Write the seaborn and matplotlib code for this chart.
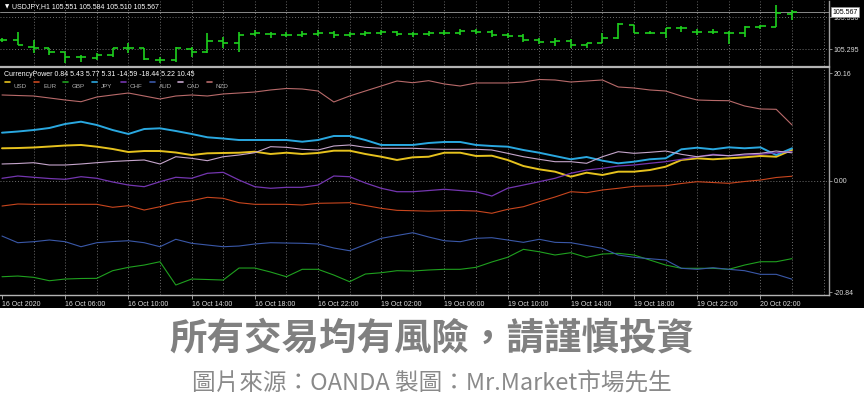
import numpy as np
import pandas as pd
import matplotlib
matplotlib.use("Agg")
import matplotlib.pyplot as plt
import matplotlib.transforms as mtransforms
from matplotlib.patches import Rectangle
from matplotlib.lines import Line2D
import seaborn as sns

# ---------------- data ----------------
x_labels = ["16 Oct 2020", "16 Oct 06:00", "16 Oct 10:00", "16 Oct 14:00", "16 Oct 18:00",
            "16 Oct 22:00", "19 Oct 02:00", "19 Oct 06:00", "19 Oct 10:00", "19 Oct 14:00",
            "19 Oct 18:00", "19 Oct 22:00", "20 Oct 02:00"]
label_bars = [0, 4, 8, 12, 16, 20, 24, 28, 32, 36, 40, 44, 48]

price_open = [105.361, 105.361, 105.312, 105.300, 105.275, 105.234, 105.227, 105.251, 105.300, 105.300,
              105.214, 105.214, 105.293, 105.275, 105.356, 105.337, 105.403, 105.405, 105.400, 105.400,
              105.409, 105.413, 105.398, 105.405, 105.413, 105.420, 105.405, 105.409, 105.413, 105.416,
              105.427, 105.420, 105.398, 105.391, 105.361, 105.347, 105.356, 105.324, 105.337, 105.374,
              105.471, 105.415, 105.415, 105.447, 105.422, 105.422, 105.415, 105.410, 105.459, 105.459,
              105.551]
price_high = [105.376, 105.422, 105.361, 105.300, 105.275, 105.251, 105.268, 105.300, 105.337, 105.300,
              105.238, 105.308, 105.312, 105.415, 105.385, 105.422, 105.435, 105.422, 105.422, 105.427,
              105.435, 105.427, 105.420, 105.427, 105.435, 105.427, 105.420, 105.427, 105.435, 105.442,
              105.442, 105.435, 105.413, 105.405, 105.376, 105.376, 105.366, 105.341, 105.410, 105.484,
              105.471, 105.430, 105.447, 105.464, 105.440, 105.440, 105.430, 105.464, 105.471, 105.618,
              105.584]
price_low = [105.347, 105.324, 105.263, 105.251, 105.190, 105.202, 105.214, 105.238, 105.263, 105.214,
             105.190, 105.202, 105.238, 105.263, 105.300, 105.275, 105.391, 105.374, 105.385, 105.383,
             105.391, 105.376, 105.383, 105.391, 105.398, 105.391, 105.383, 105.391, 105.398, 105.398,
             105.405, 105.383, 105.376, 105.347, 105.332, 105.317, 105.300, 105.300, 105.337, 105.366,
             105.410, 105.405, 105.374, 105.422, 105.398, 105.405, 105.332, 105.381, 105.440, 105.459,
             105.510]
price_close = [105.361, 105.324, 105.300, 105.275, 105.238, 105.234, 105.251, 105.300, 105.300, 105.219,
               105.214, 105.300, 105.275, 105.356, 105.337, 105.398, 105.415, 105.405, 105.400, 105.409,
               105.413, 105.398, 105.405, 105.413, 105.420, 105.405, 105.409, 105.413, 105.416, 105.427,
               105.420, 105.398, 105.391, 105.361, 105.347, 105.356, 105.324, 105.337, 105.374, 105.479,
               105.415, 105.415, 105.447, 105.447, 105.422, 105.422, 105.415, 105.459, 105.464, 105.557,
               105.567]
price_ticks = [105.530, 105.295]
price_last = 105.567

usd = [6.07, 6.12, 6.22, 6.40, 6.59, 6.69, 6.37, 5.94, 5.37, 5.56, 5.56, 5.28, 4.81, 5.13, 5.19, 5.24, 5.43,
       5.00, 5.24, 5.00, 5.19, 5.62, 5.62, 5.00, 4.49, 3.88, 4.38, 4.49, 5.24, 5.24, 4.63, 4.68, 3.88, 2.75,
       2.13, 1.69, 0.75, 1.50, 1.07, 1.69, 1.69, 2.00, 2.62, 3.88, 4.19, 4.01, 4.19, 4.38, 4.63, 4.49, 5.75]
eur = [-4.74, -4.36, -4.42, -4.42, -4.42, -4.42, -4.42, -4.98, -4.68, -5.49, -4.87, -4.12, -3.75, -3.11,
       -3.30, -4.12, -4.42, -4.42, -4.42, -4.55, -4.23, -4.18, -4.12, -4.64, -5.17, -5.55, -5.62, -5.70,
       -5.62, -5.58, -5.66, -6.10, -5.36, -4.87, -3.93, -3.05, -2.06, -2.25, -1.74, -1.42, -1.05, -0.99,
       -0.94, -0.52, -0.19, -0.34, -0.49, -0.15, 0.13, 0.60, 0.84]
gbp = [-17.98, -17.85, -18.09, -18.73, -18.41, -18.31, -18.28, -16.85, -16.22, -15.79, -15.17, -19.53,
       -18.41, -18.50, -18.60, -16.35, -16.35, -17.10, -17.98, -16.59, -16.59, -17.66, -18.91, -17.47,
       -17.23, -16.85, -16.91, -16.72, -16.59, -16.59, -16.22, -15.22, -14.34, -12.85, -13.30, -13.91,
       -13.48, -14.34, -13.73, -13.60, -13.91, -14.85, -15.79, -16.40, -16.40, -16.40, -16.59, -15.79,
       -15.17, -15.17, -14.59]
jpy = [8.99, 9.21, 9.49, 9.87, 10.62, 11.05, 10.43, 9.49, 8.75, 9.68, 9.81, 9.31, 8.75, 8.13, 7.90, 7.62,
       7.62, 7.62, 7.62, 7.30, 7.62, 8.37, 8.37, 7.62, 6.69, 6.69, 6.69, 7.06, 7.25, 7.25, 6.69, 6.50, 6.37,
       5.75, 5.24, 4.62, 4.01, 4.44, 3.75, 3.26, 3.56, 4.01, 4.19, 5.88, 6.18, 5.88, 6.25, 6.07, 6.25, 4.81,
       6.07]
chf = [0.45, 0.88, 0.64, 0.41, 0.26, 0.75, 0.45, -0.24, -0.81, -1.12, -0.19, 0.64, 0.45, 1.39, 1.57, 0.13,
       -1.12, -1.42, -1.24, -1.24, -0.81, 0.88, 0.75, -0.43, -1.42, -2.06, -2.06, -1.84, -1.61, -1.84,
       -2.06, -2.87, -1.42, -0.81, -0.19, 0.45, 1.39, 2.00, 2.32, 2.75, 2.94, 3.26, 3.56, 4.01, 4.49, 4.94,
       4.68, 4.81, 4.94, 5.24, 5.43]
aud = [-10.36, -11.61, -11.42, -11.10, -11.42, -12.36, -11.61, -11.39, -11.24, -11.61, -12.36, -10.97,
       -11.72, -12.04, -12.36, -12.23, -11.85, -11.61, -11.67, -11.72, -11.85, -12.60, -13.11, -11.95,
       -10.79, -10.26, -9.74, -10.54, -11.24, -11.42, -10.79, -10.67, -11.10, -11.54, -10.97, -11.54,
       -11.61, -12.13, -12.66, -13.91, -14.34, -14.61, -14.85, -16.40, -16.59, -16.29, -16.59, -16.85,
       -17.53, -17.53, -18.44]
cad = [3.13, 3.22, 3.37, 2.94, 2.94, 3.13, 3.37, 3.60, 3.75, 3.88, 3.13, 4.49, 4.19, 3.75, 4.49, 4.81, 5.24,
       6.37, 6.25, 5.88, 5.75, 6.50, 6.69, 6.25, 6.07, 6.07, 6.07, 5.94, 5.88, 5.88, 5.88, 5.75, 5.13, 4.49,
       4.01, 3.56, 3.56, 3.26, 4.49, 5.43, 5.13, 5.32, 5.56, 4.94, 4.49, 4.81, 4.68, 5.00, 5.13, 5.56, 5.22]
nzd = [16.05, 15.95, 15.86, 15.49, 15.11, 14.79, 15.67, 16.05, 16.42, 15.86, 15.30, 15.86, 16.05, 15.86,
       16.24, 16.42, 16.61, 16.99, 17.27, 17.17, 16.80, 14.74, 15.86, 16.80, 17.73, 18.67, 18.35, 18.73,
       18.11, 17.73, 18.30, 18.30, 18.30, 18.48, 18.95, 18.86, 18.48, 18.67, 18.86, 17.55, 17.36, 16.99,
       16.80, 15.86, 15.11, 15.02, 14.98, 13.99, 13.43, 13.37, 10.45]

currencies = ["USD", "EUR", "GBP", "JPY", "CHF", "AUD", "CAD", "NZD"]
series = [usd, eur, gbp, jpy, chf, aud, cad, nzd]
indicator_ticks = [20.16, 0.00, -20.84]
indicator_title = "CurrencyPower 0.84 5.43 5.77 5.31 -14.59 -18.44 5.22 10.45"
price_title = "USDJPY,H1 105.551 105.584 105.510 105.567"

# ---------------- style ----------------
colors = {"USD": "#e6c21e", "EUR": "#c8461e", "GBP": "#1fa01f", "JPY": "#2aa8e0",
          "CHF": "#7436b0", "AUD": "#3a58a8", "CAD": "#c6a6cc", "NZD": "#b86a6a"}
widths = {"USD": 1.4, "EUR": 0.8, "GBP": 0.8, "JPY": 1.4, "CHF": 0.9, "AUD": 0.8, "CAD": 0.8, "NZD": 0.8}

sns.set_theme(style="dark")
plt.rcParams["font.family"] = ["Liberation Sans", "DejaVu Sans"]

W, H = 864, 409
fig = plt.figure(figsize=(W / 100, H / 100), dpi=100, facecolor="white")
fig.patches.append(Rectangle((0, 1 - 308 / H), 1, 308 / H, transform=fig.transFigure,
                             facecolor="black", edgecolor="none", zorder=-10))

right_px = 829
ax_p = fig.add_axes([0, 1 - 66 / H, right_px / W, 65 / H])
ax_i = fig.add_axes([0, 1 - 295 / H, right_px / W, (295 - 67) / H])

n = len(price_open)
bars = np.arange(n)
xlim = (-2 / 15.8, (right_px - 2) / 15.8)
grid_pos = np.arange(2, 53, 2)
grid_col = "#6e6e6e"
txt_col = "#dcdcdc"

for ax in (ax_p, ax_i):
    ax.set_facecolor("black")
    ax.set_xlim(*xlim)
    for s in ("left", "top", "bottom", "right"):
        ax.spines[s].set_visible(False)
    ax.spines["right"].set_visible(True)
    ax.spines["right"].set_color("#a0a0a0")
    ax.spines["right"].set_linewidth(1.0)
    for gx in grid_pos:
        ax.axvline(gx, color=grid_col, lw=0.7, ls=(0, (1, 2)), zorder=0)
    ax.yaxis.tick_right()
    ax.tick_params(axis="y", colors="#a0a0a0", labelcolor=txt_col, labelsize=5,
                   length=2, width=0.6, pad=1.5, right=True, left=False)
    ax.grid(False)

# ---- price panel ----
green = "#1ed01e"
ax_p.vlines(bars, price_low, price_high, color=green, lw=1.2, zorder=3)
ax_p.hlines(price_open, bars - 0.33, bars, color=green, lw=1.2, zorder=3)
ax_p.hlines(price_close, bars, bars + 0.33, color=green, lw=1.2, zorder=3)
ax_p.set_ylim(105.170, 105.648)
ax_p.set_yticks(price_ticks)
ax_p.set_yticklabels([f"{v:.3f}" for v in price_ticks])
for v in price_ticks:
    ax_p.axhline(v, color=grid_col, lw=0.7, ls=(0, (1, 2)), zorder=0)
ax_p.axhline(price_last, color="#8a8a8a", lw=0.7, zorder=1)
ax_p.set_xticks([])
trans_p = mtransforms.blended_transform_factory(ax_p.transAxes, ax_p.transData)
ax_p.text(1.004, price_last, f"{price_last:.3f}", transform=trans_p, ha="left", va="center",
          fontsize=5, color="black",
          bbox=dict(boxstyle="square,pad=0.15", facecolor="white", edgecolor="#909090", lw=0.5),
          zorder=5, clip_on=False)
ax_p.text(5 / right_px, 0.91, "\u25BC", transform=ax_p.transAxes, fontsize=4, color="white",
          ha="left", va="center", family=["DejaVu Sans"])
ax_p.text(12 / right_px, 0.91, price_title, transform=ax_p.transAxes, fontsize=5, color="white",
          ha="left", va="center")

# ---- indicator panel ----
rows = []
for cur, vals in zip(currencies, series):
    for b, v in zip(bars, vals):
        rows.append((cur, b, v))
df = pd.DataFrame(rows, columns=["currency", "bar", "value"])
for cur in currencies:
    sns.lineplot(data=df[df["currency"] == cur], x="bar", y="value", color=colors[cur],
                 lw=widths[cur], ax=ax_i, legend=False, zorder=3)

ax_i.set_ylim(-21.40, 21.29)
ax_i.axhline(0, color=grid_col, lw=0.7, ls=(0, (1, 2)), zorder=0)
ax_i.set_yticks(indicator_ticks)
ax_i.set_yticklabels([f"{v:.2f}" for v in indicator_ticks])
ax_i.set_xlabel("")
ax_i.set_ylabel("")
ax_i.spines["top"].set_visible(True)
ax_i.spines["top"].set_color("#b4b4b4")
ax_i.spines["top"].set_linewidth(1.6)
ax_i.spines["bottom"].set_visible(True)
ax_i.spines["bottom"].set_color("#b4b4b4")
ax_i.spines["bottom"].set_linewidth(1.0)
ax_i.set_xticks(label_bars)
ax_i.set_xticklabels(x_labels, ha="left")
ax_i.tick_params(axis="x", colors="#b4b4b4", labelcolor=txt_col, labelsize=5, length=3,
                 width=0.6, pad=1.5, bottom=True)

ax_i.text(4 / right_px, 1 - 7 / 228, indicator_title, transform=ax_i.transAxes, fontsize=5,
          color="white", ha="left", va="center")
leg_x = [5, 34, 63, 92, 121, 150, 178, 207]
for cur, lx in zip(currencies, leg_x):
    fy = 1 - 82 / H
    fig.add_artist(Line2D([lx / W, (lx + 5) / W], [fy, fy], color=colors[cur], lw=1.2,
                          transform=fig.transFigure))
    fig.text((lx + 9) / W, 1 - 86.5 / H, cur, fontsize=4.5, color="#b0b0b0", ha="left", va="center")

# ---- caption ----
fig.text(0.5, 1 - 338 / H, "所有交易均有風險，請謹慎投資", ha="center", va="center", fontsize=27,
         fontweight="bold", color="#808080", family=["Noto Sans CJK TC", "DejaVu Sans"])
fig.text(0.5, 1 - 383 / H, "圖片來源：OANDA 製圖：Mr.Market市場先生", ha="center", va="center",
         fontsize=17, color="#8a8a8a", family=["Noto Sans CJK TC", "DejaVu Sans"])

fig.savefig("out.png", dpi=100, facecolor="white")
